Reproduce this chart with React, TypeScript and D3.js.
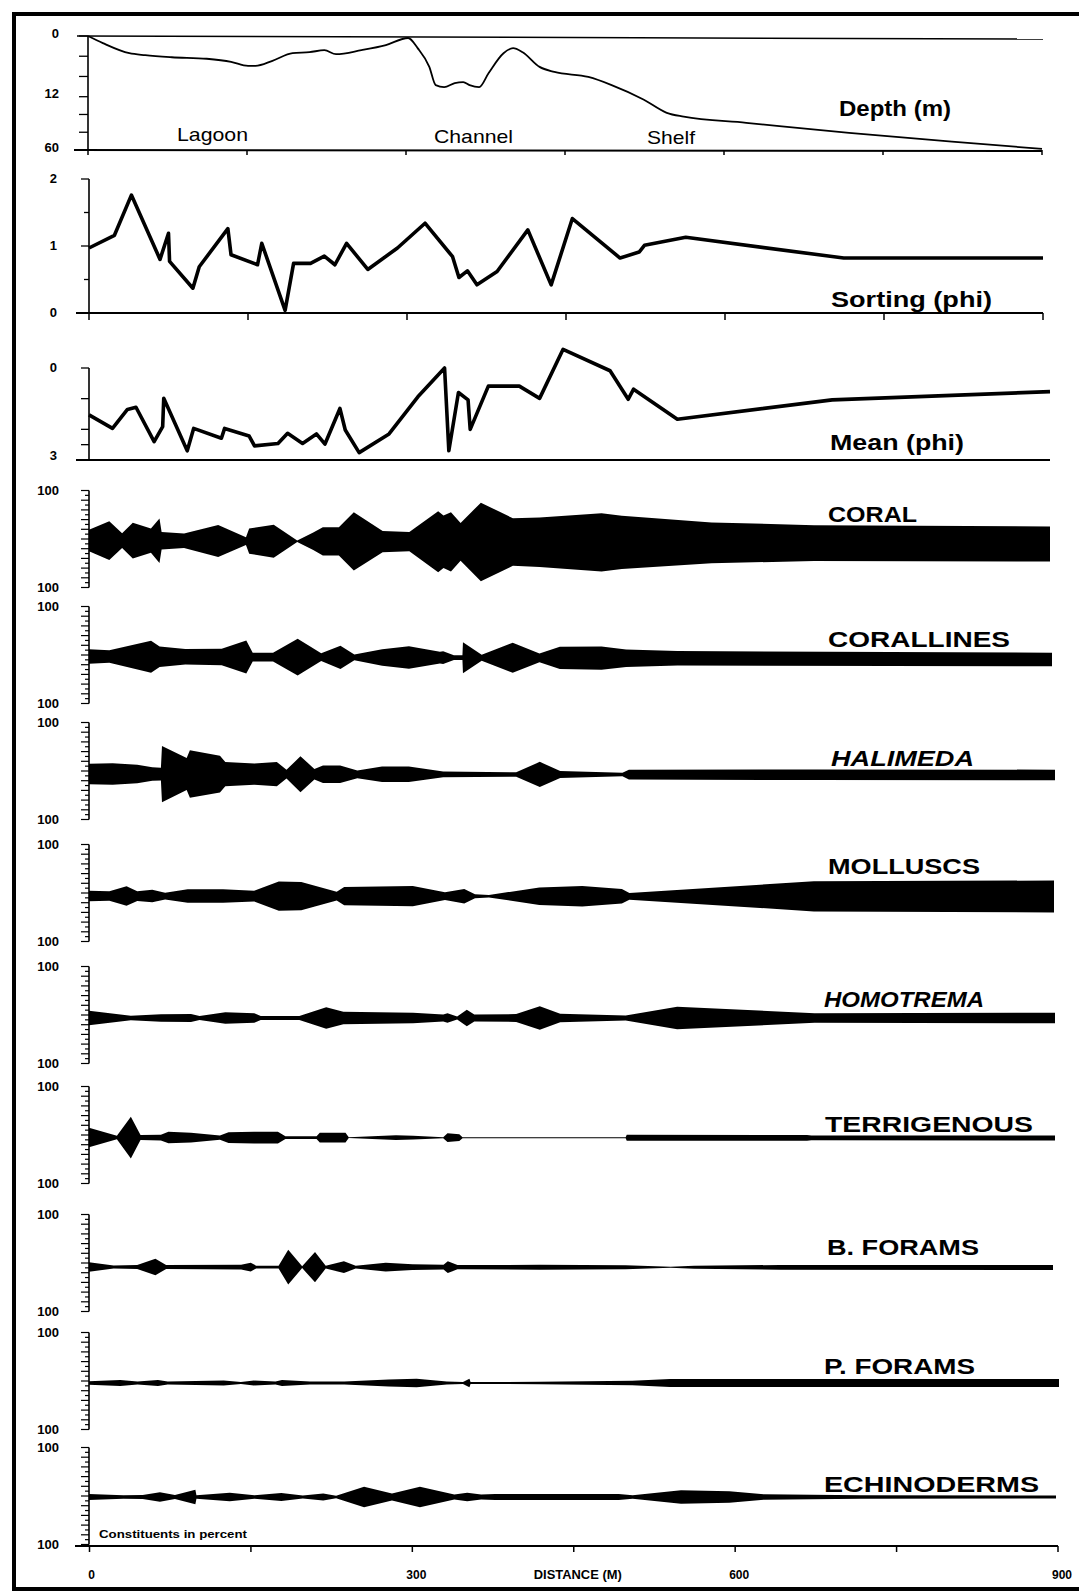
import React from "react";
import * as d3 from "d3";

// ---- transect profiles (distance along transect, m) ----
const depthDist = [0, 14, 39, 54, 79, 112, 135, 151, 158, 174, 193, 209, 223, 234, 258, 281, 302, 311, 322, 328, 336, 346, 354, 360, 369, 378, 392, 401, 410, 426, 440, 472, 494, 524, 546, 562, 621, 718, 815, 900];
const depthM = [0, 1.4, 3.4, 3.8, 4.2, 4.5, 5.1, 5.9, 5.9, 4.9, 3.4, 3.2, 2.8, 3.6, 2.8, 1.8, 0.4, 2.4, 6.1, 9.7, 10.1, 9.3, 9.1, 9.7, 10.1, 7.3, 3.4, 2.4, 3.2, 6.1, 7.1, 8.1, 9.7, 14.5, 26.5, 30, 35.5, 44.5, 52.5, 59];

const sortDist = [0, 24, 40, 67, 75, 76, 98, 104, 131, 134, 159, 163, 185, 193, 209, 222, 232, 243, 263, 291, 317, 343, 349, 357, 366, 385, 414, 436, 456, 501, 519, 524, 563, 712, 900];
const sortPhi = [0.97, 1.16, 1.76, 0.8, 1.19, 0.77, 0.37, 0.69, 1.26, 0.87, 0.72, 1.04, 0.04, 0.74, 0.74, 0.85, 0.72, 1.04, 0.65, 0.97, 1.34, 0.84, 0.53, 0.63, 0.42, 0.62, 1.24, 0.42, 1.41, 0.82, 0.91, 1.01, 1.13, 0.82, 0.82];

const meanDist = [0, 22, 36, 44, 61, 69, 70, 92, 98, 124, 127, 150, 155, 177, 186, 200, 213, 221, 235, 240, 253, 281, 308, 333, 337, 346, 355, 357, 374, 403, 422, 444, 488, 505, 510, 551, 696, 900];
const meanPhi = [1.53, 1.97, 1.35, 1.28, 2.4, 1.91, 0.99, 2.7, 1.97, 2.29, 1.97, 2.22, 2.54, 2.46, 2.13, 2.46, 2.15, 2.48, 1.32, 2.02, 2.76, 2.15, 0.94, 0.0, 2.7, 0.8, 1.04, 2.0, 0.59, 0.59, 0.99, -0.61, 0.09, 1.02, 0.69, 1.67, 1.04, 0.77];

// ---- constituents in percent ----
const coralDist = [0, 19, 31, 41, 58, 66, 68, 89, 121, 147, 150, 173, 195, 210, 219, 234, 248, 275, 300, 327, 332, 339, 348, 367, 397, 422, 480, 499, 583, 679, 900];
const coralPct = [22, 40, 15, 37, 25, 46, 18, 15, 33, 8, 26, 34, 1.5, 18, 29, 29, 60, 22, 20, 63, 54, 61, 39, 81, 49, 51, 60, 55, 42, 37, 36];

const corallDist = [0, 19, 58, 66, 90, 124, 147, 153, 172, 195, 217, 235, 248, 274, 299, 328, 331, 341, 349, 349.5, 367, 396, 421, 440, 479, 502, 550, 900];
const corallPct = [15, 13, 33, 21, 16, 17, 34, 9, 9, 38, 8, 24, 6, 17, 23, 12, 13, 5, 5, 32, 6, 31, 9, 23, 24, 18, 15, 14];

const halDist = [0, 22, 45, 59, 67, 68, 91, 94, 122, 127, 154, 175, 184, 197, 210, 218, 234, 250, 273, 298, 330, 398, 420, 439, 497, 503, 676, 900];
const halPct = [21, 22, 19, 14, 13, 58, 33, 49, 38, 25, 22, 25, 9, 37, 11, 18, 18, 8, 16, 16, 6, 4.5, 26, 7, 3.5, 10, 11, 11];

const mollDist = [0, 19, 35, 45, 59, 71, 92, 125, 154, 177, 198, 231, 238, 302, 332, 350, 360, 373, 420, 460, 497, 504, 676, 900];
const mollPct = [11, 10, 20, 10, 13, 7, 14, 14, 11, 30, 29, 9, 19, 21, 8, 15, 4, 2.5, 18, 21, 15, 7, 31, 33];

const homoDist = [0, 39, 67, 95, 103, 127, 154, 160, 196, 221, 237, 302, 330, 334, 343, 352, 359, 398, 420, 439, 500, 548, 676, 900];
const homoPct = [15, 4.5, 7.5, 8, 4, 12, 10, 4, 4, 22, 13, 11, 7, 10, 3, 17, 7, 8, 24, 9, 5, 23, 10, 11];

const terrDist = [0, 26, 39, 48, 67, 74, 95, 122, 130, 154, 176, 183, 212, 215, 239, 242, 286, 302, 330, 334, 345, 348, 500, 501, 669, 673, 900];
const terrPct = [20, 3.5, 43, 5, 6, 12, 10, 4.5, 11, 12, 12, 3, 3, 10, 10, 1, 5, 4, 1, 9, 7, 1, 1, 6, 6, 5, 5];

const bforDist = [0, 23, 45, 62, 72, 142, 151, 156, 177, 186, 199, 211, 221, 238, 249, 277, 302, 331, 335, 344, 421, 501, 543, 565, 645, 900];
const bforPct = [10, 3, 4, 17, 4, 5, 9, 3, 3, 36, 2, 31, 3, 12, 3, 9, 6, 5, 12, 4.5, 5, 4, 1, 3, 5, 5];

const pforDist = [0, 29, 45, 64, 73, 125, 141, 153, 173, 179, 205, 237, 278, 304, 332, 347, 353, 354, 418, 504, 539, 900];
const pforPct = [3.5, 6, 3, 6, 3, 5, 2, 5, 3, 6, 3, 3, 7, 9, 3, 2, 9, 2, 2.5, 4.5, 8, 8.5];

const echiDist = [0, 32, 50, 66, 80, 99, 100, 131, 154, 179, 199, 218, 230, 256, 282, 308, 340, 352, 365, 378, 493, 506, 551, 596, 628, 718, 900];
const echiPct = [6, 3.5, 4, 10, 4, 15, 3.5, 9, 3.5, 8, 3, 7, 2.5, 21, 7, 21, 5, 9, 5, 6, 6, 3.5, 14, 12, 5.5, 3.5, 3];

// ---- ticks ----
const depthTicks = [0, 4, 8, 12, 28, 44, 60];
const depthLabels = [0, 12, 60];
const sortTicks = [0, 0.5, 1, 1.5, 2];
const sortLabels = [0, 1, 2];
const meanTicks = [0, 1, 2, 2.5, 3];
const meanLabels = [0, 3];
const distTicks = [0, 150, 300, 450, 600, 750, 900];
const distLabels = [0, 300, 600, 900];
const pctTicks = [-100, -90, -80, -70, -60, -50, -40, -30, -20, -10, 0, 10, 20, 30, 40, 50, 60, 70, 80, 90, 100];

const FONT = "'Liberation Sans', Arial, Helvetica, sans-serif";
const X0 = 89;
const HALF = 48.5;

// cy = axis centre; off / tilt = where the scanned band sits relative to it
const kites = [
  { name: "CORAL", italic: false, cy: 539, off: 1.5, tilt: 3.5, xEnd: 1050, dist: coralDist, pct: coralPct, lx: [828, 917], by: 522 },
  { name: "CORALLINES", italic: false, cy: 655, off: 1.5, tilt: 3, xEnd: 1052, dist: corallDist, pct: corallPct, lx: [828, 1010], by: 647 },
  { name: "HALIMEDA", italic: true, cy: 771, off: 3, tilt: 1, xEnd: 1055, dist: halDist, pct: halPct, lx: [831, 974], by: 766 },
  { name: "MOLLUSCS", italic: false, cy: 893, off: 3, tilt: 0.5, xEnd: 1054, dist: mollDist, pct: mollPct, lx: [828, 980], by: 874 },
  { name: "HOMOTREMA", italic: true, cy: 1015, off: 3, tilt: 0, xEnd: 1055, dist: homoDist, pct: homoPct, lx: [824, 984], by: 1007 },
  { name: "TERRIGENOUS", italic: false, cy: 1135, off: 2.5, tilt: 0.5, xEnd: 1055, dist: terrDist, pct: terrPct, lx: [825, 1033], by: 1132 },
  { name: "B. FORAMS", italic: false, cy: 1263, off: 4, tilt: 0.5, xEnd: 1053, dist: bforDist, pct: bforPct, lx: [827, 979], by: 1255 },
  { name: "P. FORAMS", italic: false, cy: 1381, off: 2, tilt: 0, xEnd: 1059, dist: pforDist, pct: pforPct, lx: [824, 975], by: 1374 },
  { name: "ECHINODERMS", italic: false, cy: 1496, off: 1, tilt: 0, xEnd: 1056, dist: echiDist, pct: echiPct, lx: [824, 1039], by: 1492 },
];

const tickLabel = { fontFamily: FONT, fontWeight: 700, fontSize: 13 } as const;
const bigLabel = { fontFamily: FONT, fontWeight: 700, fontSize: 22 } as const;

function Kite({ k }: { k: (typeof kites)[number] }) {
  const x = d3.scaleLinear().domain([0, 900]).range([X0, k.xEnd]);
  const w = d3.scaleLinear().domain([0, 100]).range([0, HALF]);
  const y = d3.scaleLinear().domain([-100, 100]).range([k.cy + HALF, k.cy - HALF]);
  const mid = (d: number) => k.cy + k.off + (k.tilt * d) / 900;
  const pts = k.dist.map((d, i) => [d, k.pct[i]] as [number, number]);
  const area = d3
    .area<[number, number]>()
    .x((d) => x(d[0]))
    .y0((d) => mid(d[0]) + w(d[1]))
    .y1((d) => mid(d[0]) - w(d[1]));
  return (
    <g>
      <path d={area(pts) || ""} fill="#000" />
      <line x1={X0} x2={X0} y1={y(100)} y2={y(-100)} stroke="#000" strokeWidth={1.6} />
      {pctTicks.map((t) => (
        <line key={t} x1={X0 - (t % 20 === 0 ? 8 : 4)} x2={X0} y1={y(t)} y2={y(t)} stroke="#000" strokeWidth={1.2} />
      ))}
      <text x={59} y={y(100)} dy="0.35em" textAnchor="end" style={tickLabel}>100</text>
      <text x={59} y={y(-100)} dy="0.35em" textAnchor="end" style={tickLabel}>100</text>
      <text
        x={k.lx[0]}
        y={k.by}
        textLength={k.lx[1] - k.lx[0]}
        lengthAdjust="spacingAndGlyphs"
        fontStyle={k.italic ? "italic" : "normal"}
        style={bigLabel}
      >
        {k.name}
      </text>
    </g>
  );
}

export default function App() {
  // depth panel
  const xD = d3.scaleLinear().domain([0, 900]).range([88, 1042]);
  const yD = d3.scaleLinear().domain([0, 12, 60]).range([36, 96.7, 150]);
  const depthLine = d3
    .line<number>()
    .x((_, i) => xD(depthDist[i]))
    .y((d) => yD(d))
    .curve(d3.curveMonotoneX);

  // sorting panel
  const xS = d3.scaleLinear().domain([0, 900]).range([X0, 1043]);
  const yS = d3.scaleLinear().domain([0, 2]).range([313, 179]);
  const sortLine = d3
    .line<number>()
    .x((_, i) => xS(sortDist[i]))
    .y((d) => yS(d));

  // mean panel
  const xM = d3.scaleLinear().domain([0, 900]).range([X0, 1050]);
  const yM = d3.scaleLinear().domain([0, 3]).range([368, 460]);
  const meanLine = d3
    .line<number>()
    .x((_, i) => xM(meanDist[i]))
    .y((d) => yM(d));

  // bottom distance axis
  const xB = d3.scaleLinear().domain([0, 900]).range([89.5, 1058]);

  return (
    <svg width={1079} height={1594} style={{ position: "absolute", left: 0, top: 0, background: "#fff" }}>
      <rect x={0} y={0} width={1079} height={1594} fill="#fff" />
      {/* frame */}
      <rect x={12} y={12} width={1067} height={4} fill="#000" />
      <rect x={12} y={12} width={4} height={1579} fill="#000" />
      <rect x={12} y={1587} width={1067} height={4} fill="#000" />

      {/* ---- Depth ---- */}
      <g>
        <line x1={77} x2={1043} y1={yD(0)} y2={yD(0) + 3} stroke="#000" strokeWidth={1.5} />
        <line x1={74} x2={1042} y1={yD(60)} y2={yD(60) + 1} stroke="#000" strokeWidth={2} />
        <line x1={88} x2={88} y1={yD(0)} y2={yD(60)} stroke="#000" strokeWidth={1.6} />
        {depthTicks.map((t) => (
          <line key={t} x1={79} x2={88} y1={yD(t)} y2={yD(t)} stroke="#000" strokeWidth={1.3} />
        ))}
        {distTicks.map((t) => (
          <line key={t} x1={xD(t)} x2={xD(t)} y1={yD(60)} y2={yD(60) + 5} stroke="#000" strokeWidth={1.5} />
        ))}
        {depthLabels.map((t) => (
          <text key={t} x={59} y={yD(t) - 3} dy="0.35em" textAnchor="end" style={tickLabel}>{t}</text>
        ))}
        <path d={depthLine(depthM) || ""} fill="none" stroke="#000" strokeWidth={1.8} />
        <text x={177} y={141} textLength={71} lengthAdjust="spacingAndGlyphs" style={{ fontFamily: FONT, fontSize: 19 }}>Lagoon</text>
        <text x={434} y={143} textLength={79} lengthAdjust="spacingAndGlyphs" style={{ fontFamily: FONT, fontSize: 19 }}>Channel</text>
        <text x={647} y={144} textLength={48} lengthAdjust="spacingAndGlyphs" style={{ fontFamily: FONT, fontSize: 19 }}>Shelf</text>
        <text x={839} y={116} textLength={112} lengthAdjust="spacingAndGlyphs" style={bigLabel}>Depth (m)</text>
      </g>

      {/* ---- Sorting ---- */}
      <g>
        <line x1={76} x2={1043} y1={yS(0)} y2={yS(0)} stroke="#000" strokeWidth={2} />
        <line x1={X0} x2={X0} y1={yS(2)} y2={yS(0)} stroke="#000" strokeWidth={1.6} />
        {sortTicks.map((t) => (
          <line key={t} x1={t % 1 === 0 ? 81 : 84} x2={X0} y1={yS(t)} y2={yS(t)} stroke="#000" strokeWidth={1.3} />
        ))}
        {distTicks.map((t) => (
          <line key={t} x1={xS(t)} x2={xS(t)} y1={yS(0)} y2={yS(0) + 7} stroke="#000" strokeWidth={1.5} />
        ))}
        {sortLabels.map((t) => (
          <text key={t} x={57} y={yS(t) - 1} dy="0.35em" textAnchor="end" style={tickLabel}>{t}</text>
        ))}
        <path d={sortLine(sortPhi) || ""} fill="none" stroke="#000" strokeWidth={3.6} strokeLinejoin="round" />
        <text x={831} y={307} textLength={161} lengthAdjust="spacingAndGlyphs" style={bigLabel}>Sorting (phi)</text>
      </g>

      {/* ---- Mean ---- */}
      <g>
        <line x1={76} x2={1050} y1={yM(3)} y2={yM(3)} stroke="#000" strokeWidth={2} />
        <line x1={X0} x2={X0} y1={yM(0)} y2={yM(3)} stroke="#000" strokeWidth={1.6} />
        {meanTicks.map((t) => (
          <line key={t} x1={81} x2={X0} y1={yM(t)} y2={yM(t)} stroke="#000" strokeWidth={1.3} />
        ))}
        {meanLabels.map((t) => (
          <text key={t} x={57} y={yM(t) - (t === 3 ? 5 : 1)} dy="0.35em" textAnchor="end" style={tickLabel}>{t}</text>
        ))}
        <path d={meanLine(meanPhi) || ""} fill="none" stroke="#000" strokeWidth={3.6} strokeLinejoin="round" />
        <text x={830} y={450} textLength={134} lengthAdjust="spacingAndGlyphs" style={bigLabel}>Mean (phi)</text>
      </g>

      {/* ---- kite diagrams ---- */}
      {kites.map((k) => (
        <Kite key={k.name} k={k} />
      ))}

      {/* ---- distance axis ---- */}
      <g>
        <line x1={75} x2={1058} y1={1546} y2={1546} stroke="#000" strokeWidth={2} />
        {distTicks.map((t) => (
          <line key={t} x1={xB(t)} x2={xB(t)} y1={1546} y2={1552} stroke="#000" strokeWidth={1.5} />
        ))}
        {distLabels.map((t) => (
          <text key={t} x={xB(t) + (t === 0 ? 2 : 4)} y={1579} textAnchor="middle" style={{ fontFamily: FONT, fontWeight: 700, fontSize: 12 }}>{t}</text>
        ))}
        <text x={xB(450) + 4} y={1579} textAnchor="middle" textLength={88} lengthAdjust="spacingAndGlyphs" style={{ fontFamily: FONT, fontWeight: 700, fontSize: 12.5 }}>DISTANCE (M)</text>
        <text x={99} y={1538} textLength={148} lengthAdjust="spacingAndGlyphs" style={{ fontFamily: FONT, fontWeight: 700, fontSize: 11 }}>Constituents in percent</text>
      </g>
    </svg>
  );
}
